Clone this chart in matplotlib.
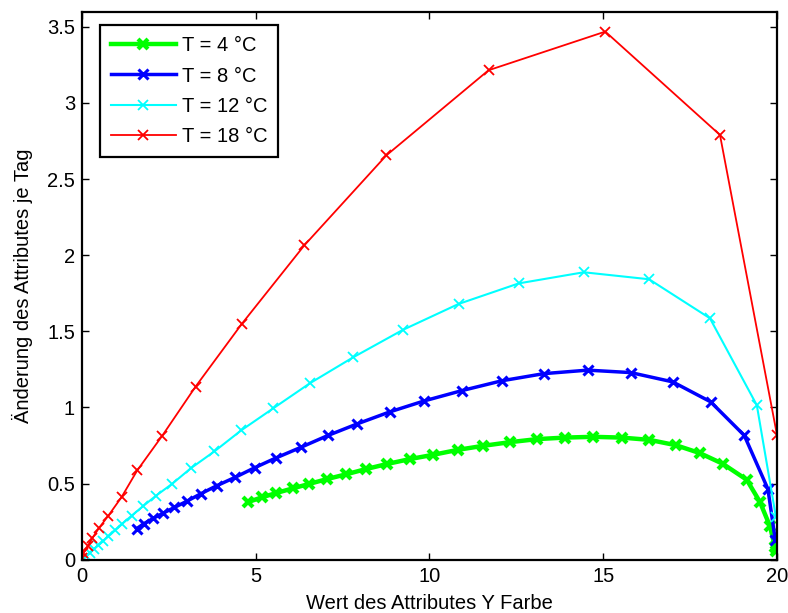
import matplotlib
matplotlib.use("Agg")
import matplotlib.pyplot as plt

plt.rcParams["font.family"] = ["Liberation Sans", "DejaVu Sans"]

# Werte je Temperatur: x = Attributwert, y = Änderung je Tag
x_4 = [4.79, 5.17, 5.58, 6.06, 6.53, 7.06, 7.59, 8.17, 8.77, 9.44, 10.11, 10.83,
       11.55, 12.32, 13.10, 13.90, 14.71, 15.53, 16.33, 17.09, 17.78, 18.44,
       19.13, 19.51, 19.80, 19.94, 19.98]
y_4 = [0.379, 0.409, 0.437, 0.468, 0.497, 0.530, 0.560, 0.595, 0.628, 0.661, 0.689, 0.722,
       0.748, 0.772, 0.792, 0.802, 0.807, 0.802, 0.787, 0.752, 0.700, 0.630,
       0.525, 0.379, 0.219, 0.083, 0.054]

x_8 = [1.57, 1.78, 2.05, 2.34, 2.66, 3.01, 3.42, 3.88, 4.40, 4.97, 5.57, 6.29,
       7.08, 7.92, 8.86, 9.85, 10.94, 12.08, 13.29, 14.55, 15.79, 17.00, 18.09,
       19.06, 19.74, 19.95]
y_8 = [0.203, 0.236, 0.271, 0.306, 0.343, 0.383, 0.433, 0.486, 0.540, 0.604, 0.667, 0.737,
       0.816, 0.892, 0.971, 1.043, 1.111, 1.175, 1.222, 1.245, 1.229, 1.168, 1.037,
       0.816, 0.464, 0.131]

x_12 = [0.0, 0.12, 0.22, 0.34, 0.47, 0.60, 0.76, 0.95, 1.16, 1.43, 1.75, 2.13, 2.60,
        3.13, 3.81, 4.58, 5.51, 6.56, 7.81, 9.23, 10.84, 12.57, 14.44, 16.32,
        18.07, 19.42, 19.97]
y_12 = [0.0, 0.022, 0.044, 0.068, 0.094, 0.120, 0.153, 0.192, 0.236, 0.289, 0.350, 0.420, 0.499,
        0.600, 0.711, 0.849, 0.995, 1.159, 1.330, 1.509, 1.680, 1.815, 1.888, 1.842,
        1.586, 1.015, 0.280]

x_18 = [0.0, 0.04, 0.16, 0.30, 0.49, 0.76, 1.14, 1.59, 2.31, 3.27, 4.60, 6.40, 8.76,
        11.70, 15.06, 18.36, 20.0]
y_18 = [0.01, 0.044, 0.087, 0.142, 0.208, 0.289, 0.411, 0.586, 0.814, 1.137, 1.549, 2.065,
        2.656, 3.215, 3.469, 2.790, 0.820]

FS = 14.5

fig = plt.figure(figsize=(7.88, 6.13), dpi=100)
ax = fig.add_axes([0.104, 0.087, 0.882, 0.894])

ax.plot(x_4, y_4, color=(0, 1, 0), lw=3.2, marker="x", ms=7, mew=3, label="T = 4 °C")
ax.plot(x_8, y_8, color=(0, 0, 1), lw=2.5, marker="x", ms=7, mew=2.2, label="T = 8 °C")
ax.plot(x_12, y_12, color=(0, 1, 1), lw=1.5, marker="x", ms=7.5, mew=1.3, label="T = 12 °C")
ax.plot(x_18, y_18, color=(1, 0, 0), lw=1.3, marker="x", ms=7.5, mew=1.3, label="T = 18 °C")

ax.set_xlim(0, 20)
ax.set_ylim(0, 3.6)
ax.set_xticks([0, 5, 10, 15, 20])
ax.set_yticks([0, 0.5, 1, 1.5, 2, 2.5, 3, 3.5])
ax.set_yticklabels(["0", "0.5", "1", "1.5", "2", "2.5", "3", "3.5"])
ax.tick_params(direction="in", length=5, width=1, top=True, right=True,
               labelsize=FS, pad=5)
for sp in ax.spines.values():
    sp.set_linewidth(1.6)

ax.set_xlabel("Wert des Attributes Y Farbe", fontsize=FS, labelpad=6)
ax.set_ylabel("Änderung des Attributes je Tag", fontsize=FS, labelpad=10)

leg = ax.legend(loc="upper left", bbox_to_anchor=(0.026, 0.975), borderaxespad=0,
                fontsize=FS, handlelength=3.2, labelspacing=0.55, fancybox=False,
                framealpha=1, edgecolor="black", borderpad=0.55, handletextpad=0.3)
leg.get_frame().set_linewidth(1.6)

fig.savefig("out.png", dpi=100)
